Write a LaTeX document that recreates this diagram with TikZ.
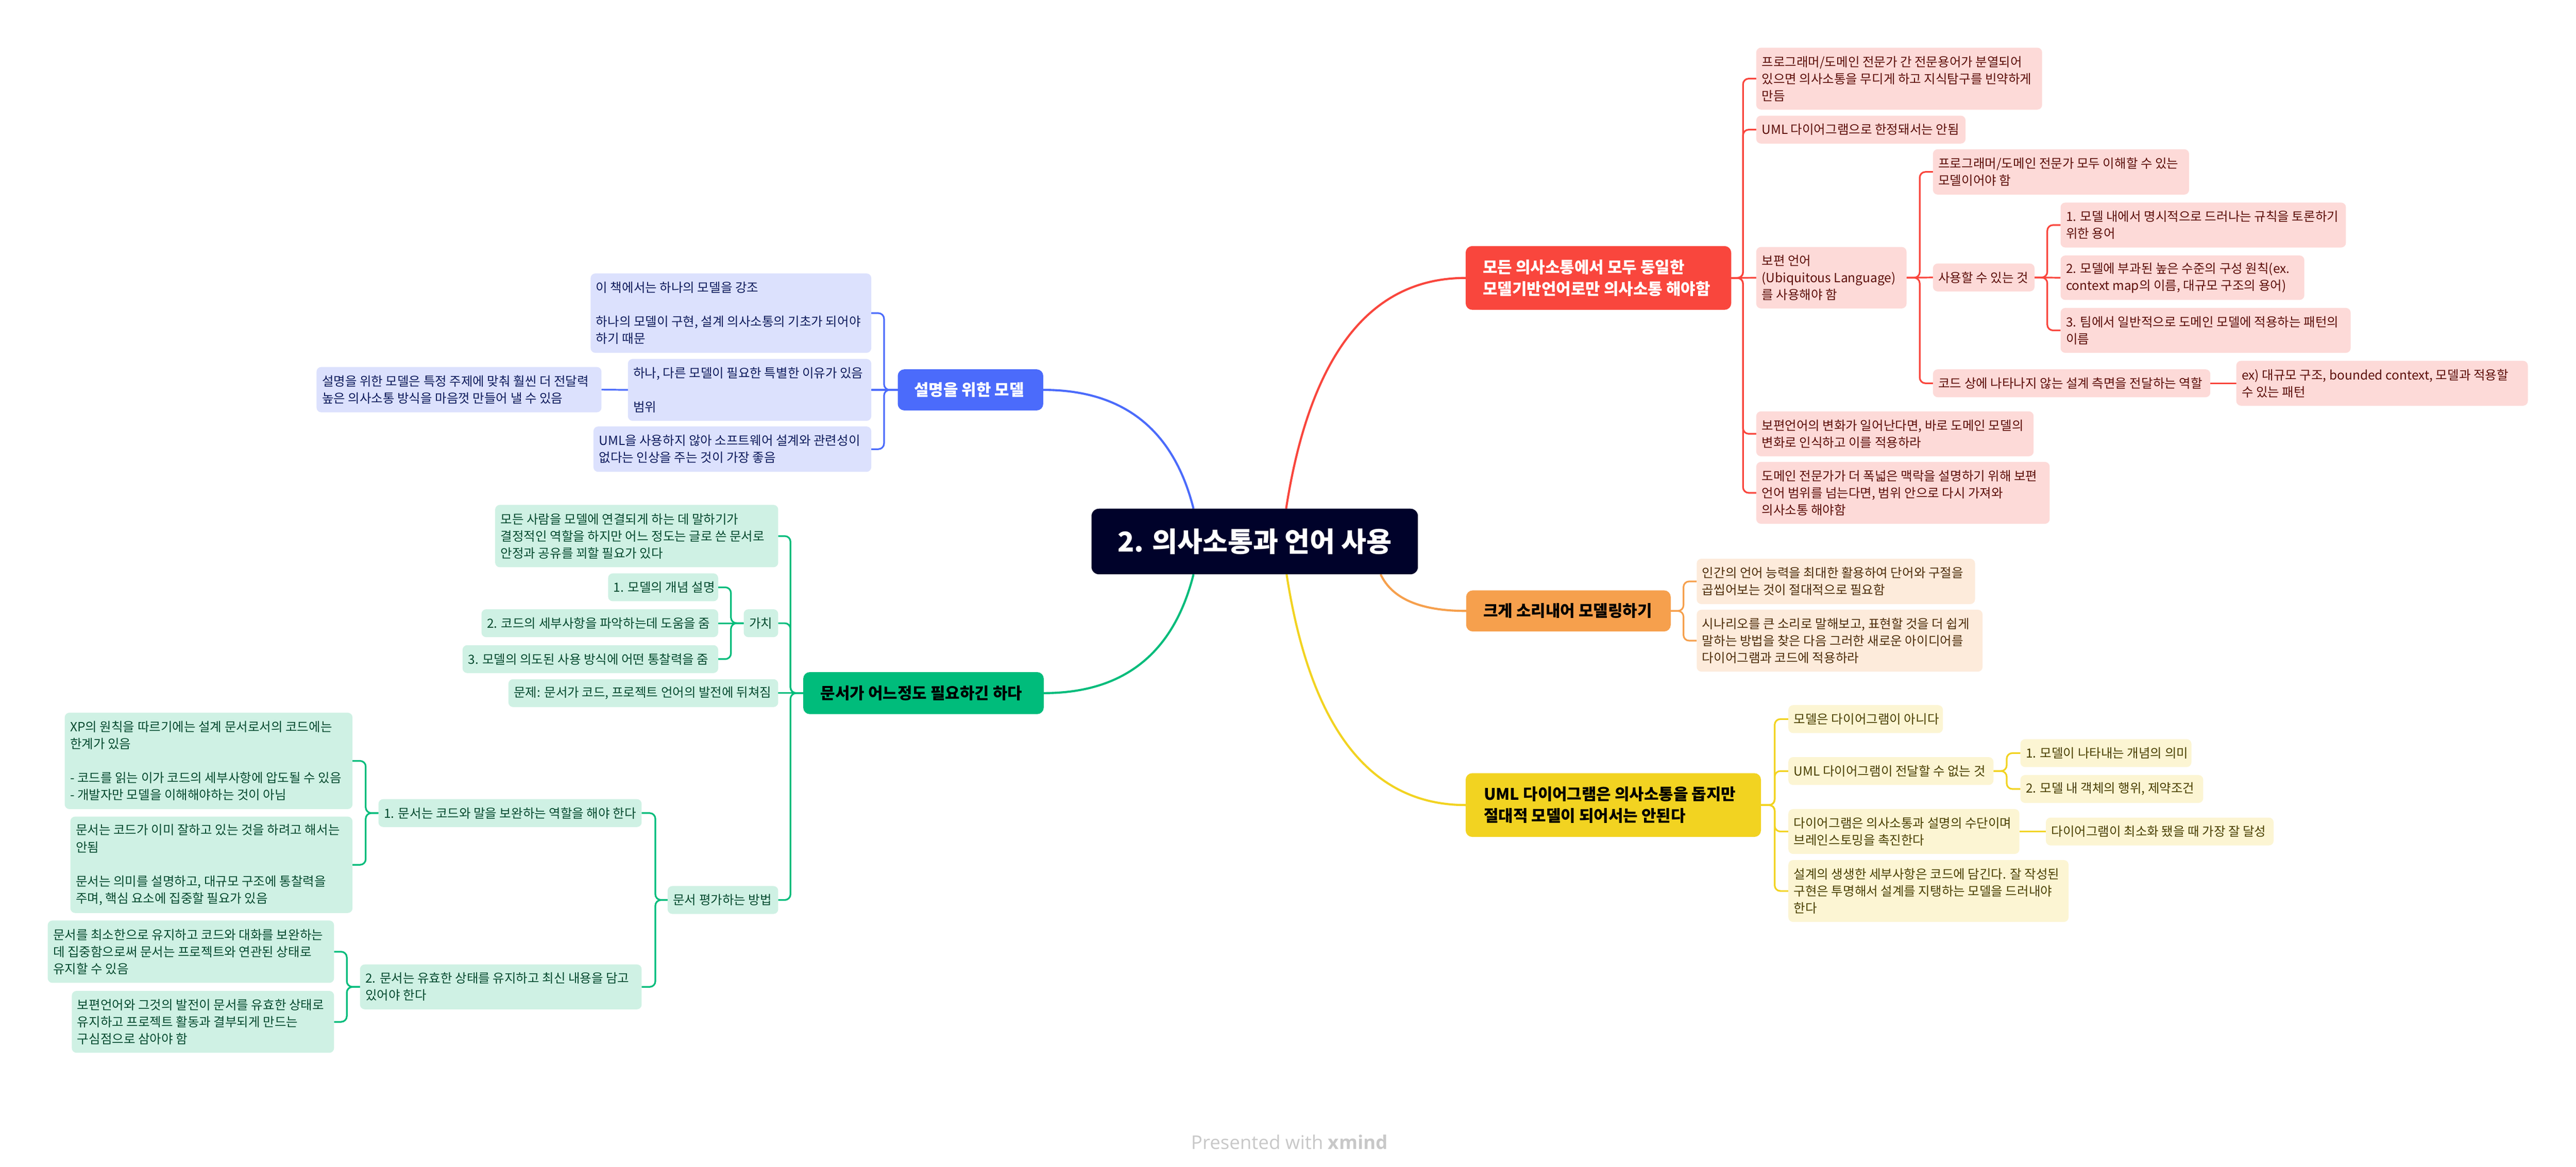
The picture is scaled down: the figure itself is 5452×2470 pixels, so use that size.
\documentclass[tikz,border=0pt]{standalone}
\usepackage{fontspec}
\setmainfont{Noto Sans CJK KR}
\newfontfamily\footfont{Open Sans}
\usetikzlibrary{calc}
\pgfdeclarelayer{paper}
\pgfdeclarelayer{lines}
\pgfsetlayers{paper,lines,main}

\definecolor{ctrC}{HTML}{00022A}
\definecolor{redM}{HTML}{F9463D}
\definecolor{redS}{HTML}{FDDAD8}
\definecolor{redT}{HTML}{5C0D08}
\definecolor{orgM}{HTML}{F6A04D}
\definecolor{orgS}{HTML}{FDEBDB}
\definecolor{orgT}{HTML}{4D2B08}
\definecolor{yelM}{HTML}{F2D321}
\definecolor{yelS}{HTML}{FCF5D3}
\definecolor{yelT}{HTML}{4A3F00}
\definecolor{bluM}{HTML}{4B6BFB}
\definecolor{bluS}{HTML}{DCE1FD}
\definecolor{bluT}{HTML}{0D1A5C}
\definecolor{grnM}{HTML}{00BC7B}
\definecolor{grnS}{HTML}{CFF1E4}
\definecolor{grnT}{HTML}{04492E}
\definecolor{footC}{HTML}{C8C8C8}

\newcommand{\subsize}{\fontsize{10.7pt}{14.4pt}\selectfont}
\newcommand{\mainsize}{\fontsize{13.5pt}{18.4pt}\selectfont\bfseries}

\tikzset{
  boxbase/.style={rectangle, inner sep=0pt, outer sep=0pt},
  subbox/.style={boxbase, rounded corners=4pt},
  mainbox/.style={boxbase, rounded corners=5.6pt},
  redmain/.style={mainbox, fill=redM},
  redmaintext/.style={text=white, font=\mainsize},
  redsub/.style={subbox, fill=redS},
  redsubtext/.style={text=redT, font=\subsize},
  orgmain/.style={mainbox, fill=orgM},
  orgmaintext/.style={text=black, font=\mainsize},
  orgsub/.style={subbox, fill=orgS},
  orgsubtext/.style={text=orgT, font=\subsize},
  yelmain/.style={mainbox, fill=yelM},
  yelmaintext/.style={text=black, font=\mainsize},
  yelsub/.style={subbox, fill=yelS},
  yelsubtext/.style={text=yelT, font=\subsize},
  blumain/.style={mainbox, fill=bluM},
  blumaintext/.style={text=white, font=\mainsize},
  blusub/.style={subbox, fill=bluS},
  blusubtext/.style={text=bluT, font=\subsize},
  grnmain/.style={mainbox, fill=grnM},
  grnmaintext/.style={text=black, font=\mainsize},
  grnsub/.style={subbox, fill=grnS},
  grnsubtext/.style={text=grnT, font=\subsize},
  mainconn/.style={line width=1.8pt},
  subconn/.style={line width=1.4pt, rounded corners=4.8pt},
}

% style, name, x1, y1, x2, y2, pad, text   (all in reference pixels)
\newcommand{\topicbox}[8]{%
  \node[#1, minimum width={(#5-#3)*0.4pt}, minimum height={(#6-#4)*0.4pt}] (#2) at ({(#3+#5)/2},{(#4+#6)/2}) {};
  \node[#1text, anchor=west, align=left, inner sep=0pt] (#2t) at ([xshift={#7*0.4pt}]#2.west) {#8};
}

\begin{document}
\begin{tikzpicture}[x=0.4pt,y=-0.4pt]
\useasboundingbox (0,0) rectangle (5452,2470);
\begin{pgfonlayer}{paper}
  \fill[white] (0,0) rectangle (5452,2470);
\end{pgfonlayer}

% central topic
\node[mainbox, rounded corners=6.4pt, fill=ctrC, minimum width={(3001-2310)*0.4pt}, minimum height={(1216-1077)*0.4pt},
      text=white, font=\fontsize{23.2pt}{27pt}\selectfont\bfseries] (ctr) at (2655.5,1146.5) {2. 의사소통과 언어 사용};

% ---------------- red branch
\topicbox{redmain}{rm}{3102}{521}{3664}{656}{36}{모든 의사소통에서 모두 동일한\\모델기반언어로만 의사소통 해야함}
\topicbox{redsub}{r1}{3717}{101}{4322}{232}{11}{프로그래머/도메인 전문가 간 전문용어가 분열되어\\있으면 의사소통을 무디게 하고 지식탐구를 빈약하게\\만듬}
\topicbox{redsub}{r2}{3717}{245}{4160}{304}{11}{UML 다이어그램으로 한정돼서는 안됨}
\topicbox{redsub}{r3}{3717}{523}{4035}{653}{11}{보편 언어\\(Ubiquitous Language)\\를 사용해야 함}
\topicbox{redsub}{r4}{3717}{871}{4304}{966}{11}{보편언어의 변화가 일어난다면, 바로 도메인 모델의\\변화로 인식하고 이를 적용하라}
\topicbox{redsub}{r5}{3717}{978}{4338}{1109}{11}{도메인 전문가가 더 폭넓은 맥락을 설명하기 위해 보편\\언어 범위를 넘는다면, 범위 안으로 다시 가져와\\의사소통 해야함}
\topicbox{redsub}{r3a}{4091}{316}{4633}{412}{11}{프로그래머/도메인 전문가 모두 이해할 수 있는\\모델이어야 함}
\topicbox{redsub}{r3b}{4091}{558}{4306}{617}{11}{사용할 수 있는 것}
\topicbox{redsub}{r3c}{4091}{782}{4678}{841}{11}{코드 상에 나타나지 않는 설계 측면을 전달하는 역할}
\topicbox{redsub}{r3ba}{4361}{429}{4965}{524}{11}{1. 모델 내에서 명시적으로 드러나는 규칙을 토론하기\\위한 용어}
\topicbox{redsub}{r3bb}{4361}{541}{4877}{635}{11}{2. 모델에 부과된 높은 수준의 구성 원칙(ex.\\context map의 이름, 대규모 구조의 용어)}
\topicbox{redsub}{r3bc}{4361}{652}{4975}{747}{11}{3. 팀에서 일반적으로 도메인 모델에 적용하는 패턴의\\이름}
\topicbox{redsub}{r3ca}{4733}{764}{5350}{859}{11}{ex) 대규모 구조, bounded context, 모델과 적용할\\수 있는 패턴}

% ---------------- orange branch
\topicbox{orgmain}{om}{3103}{1250}{3536}{1337}{36}{크게 소리내어 모델링하기}
\topicbox{orgsub}{o1}{3591}{1183}{4180}{1279}{11}{인간의 언어 능력을 최대한 활용하여 단어와 구절을\\곱씹어보는 것이 절대적으로 필요함}
\topicbox{orgsub}{o2}{3591}{1291}{4196}{1422}{11}{시나리오를 큰 소리로 말해보고, 표현할 것을 더 쉽게\\말하는 방법을 찾은 다음 그러한 새로운 아이디어를\\다이어그램과 코드에 적용하라}

% ---------------- yellow branch
\topicbox{yelmain}{ym}{3102}{1637}{3727}{1772}{38}{UML 다이어그램은 의사소통을 돕지만\\절대적 모델이 되어서는 안된다}
\topicbox{yelsub}{y1}{3785}{1493}{4112}{1552}{11}{모델은 다이어그램이 아니다}
\topicbox{yelsub}{y2}{3785}{1603}{4219}{1662}{11}{UML 다이어그램이 전달할 수 없는 것}
\topicbox{yelsub}{y2a}{4276}{1565}{4638}{1624}{11}{1. 모델이 나타내는 개념의 의미}
\topicbox{yelsub}{y2b}{4276}{1641}{4663}{1700}{11}{2. 모델 내 객체의 행위, 제약조건}
\topicbox{yelsub}{y3}{3785}{1713}{4274}{1808}{11}{다이어그램은 의사소통과 설명의 수단이며\\브레인스토밍을 촉진한다}
\topicbox{yelsub}{y3a}{4330}{1731}{4812}{1790}{11}{다이어그램이 최소화 됐을 때 가장 잘 달성}
\topicbox{yelsub}{y4}{3785}{1821}{4378}{1952}{11}{설계의 생생한 세부사항은 코드에 담긴다. 잘 작성된\\구현은 투명해서 설계를 지탱하는 모델을 드러내야\\한다}

% ---------------- blue branch
\topicbox{blumain}{bm}{1900}{782}{2208}{869}{34}{설명을 위한 모델}
\topicbox{blusub}{b1}{1250}{579}{1844}{747}{11}{이 책에서는 하나의 모델을 강조\\[14.4pt]하나의 모델이 구현, 설계 의사소통의 기초가 되어야\\하기 때문}
\topicbox{blusub}{b2}{1329}{760}{1844}{891}{11}{하나, 다른 모델이 필요한 특별한 이유가 있음\\[14.4pt]범위}
\topicbox{blusub}{b2a}{670}{777}{1273}{873}{11}{설명을 위한 모델은 특정 주제에 맞춰 훨씬 더 전달력\\높은 의사소통 방식을 마음껏 만들어 낼 수 있음}
\topicbox{blusub}{b3}{1256}{903}{1844}{999}{11}{UML을 사용하지 않아 소프트웨어 설계와 관련성이\\없다는 인상을 주는 것이 가장 좋음}

% ---------------- green branch
\topicbox{grnmain}{gm}{1700}{1423}{2209}{1512}{36}{문서가 어느정도 필요하긴 하다}
\topicbox{grnsub}{g1}{1048}{1069}{1647}{1201}{11}{모든 사람을 모델에 연결되게 하는 데 말하기가\\결정적인 역할을 하지만 어느 정도는 글로 쓴 문서로\\안정과 공유를 꾀할 필요가 있다}
\topicbox{grnsub}{g2}{1574}{1290}{1647}{1349}{11}{가치}
\topicbox{grnsub}{g2a}{1287}{1214}{1520}{1273}{11}{1. 모델의 개념 설명}
\topicbox{grnsub}{g2b}{1019}{1290}{1520}{1349}{11}{2. 코드의 세부사항을 파악하는데 도움을 줌}
\topicbox{grnsub}{g2c}{979}{1366}{1520}{1425}{11}{3. 모델의 의도된 사용 방식에 어떤 통찰력을 줌}
\topicbox{grnsub}{g3}{1076}{1438}{1647}{1497}{11}{문제: 문서가 코드, 프로젝트 언어의 발전에 뒤쳐짐}
\topicbox{grnsub}{g4}{1413}{1876}{1647}{1935}{11}{문서 평가하는 방법}
\topicbox{grnsub}{g4a}{801}{1692}{1358}{1751}{11}{1. 문서는 코드와 말을 보완하는 역할을 해야 한다}
\topicbox{grnsub}{g4aa}{137}{1509}{746}{1713}{11}{XP의 원칙을 따르기에는 설계 문서로서의 코드에는\\한계가 있음\\[14.4pt]- 코드를 읽는 이가 코드의 세부사항에 압도될 수 있음\\- 개발자만 모델을 이해해야하는 것이 아님}
\topicbox{grnsub}{g4ab}{149}{1729}{746}{1933}{11}{문서는 코드가 이미 잘하고 있는 것을 하려고 해서는\\안됨\\[14.4pt]문서는 의미를 설명하고, 대규모 구조에 통찰력을\\주며, 핵심 요소에 집중할 필요가 있음}
\topicbox{grnsub}{g4b}{762}{2042}{1358}{2137}{11}{2. 문서는 유효한 상태를 유지하고 최신 내용을 담고\\있어야 한다}
\topicbox{grnsub}{g4ba}{101}{1949}{707}{2081}{11}{문서를 최소한으로 유지하고 코드와 대화를 보완하는\\데 집중함으로써 문서는 프로젝트와 연관된 상태로\\유지할 수 있음}
\topicbox{grnsub}{g4bb}{152}{2098}{707}{2229}{11}{보편언어와 그것의 발전이 문서를 유효한 상태로\\유지하고 프로젝트 활동과 결부되게 만드는\\구심점으로 삼아야 함}

% footer
\node[font=\footfont\fontsize{16pt}{19pt}\selectfont, text=footC, anchor=base] (foot) at (2729,2433) {Presented with \textbf{xmind}};

% ---------------- connectors
\begin{pgfonlayer}{lines}
  % main curves
  \draw[mainconn, redM] ($(ctr.north west)+(412,0)$) .. controls (2772.7,751.3) and (2899.3,588.5) .. (rm.west);
  \draw[mainconn, bluM] ($(ctr.north west)+(216,0)$) .. controls (2483.6,909.3) and (2377.6,825.5) .. (bm.east);
  \draw[mainconn, grnM] ($(ctr.south west)+(216,0)$) .. controls (2483.7,1383.7) and (2378.1,1467.5) .. (gm.east);
  \draw[mainconn, yelM] ($(ctr.south west)+(413,0)$) .. controls (2773.5,1541.7) and (2899.9,1704.5) .. (ym.west);
  \draw[mainconn, orgM] ($(ctr.south west)+(612,0)$) .. controls (2946.1,1267.7) and (3006.5,1293.5) .. (om.west);

  % red
  \draw[subconn, redM] (rm.east) -- ++(25,0) |- (r1.west);
  \draw[subconn, redM] (rm.east) -- ++(25,0) |- (r2.west);
  \draw[subconn, redM] (rm.east) -- (r3.west);
  \draw[subconn, redM] (rm.east) -- ++(25,0) |- (r4.west);
  \draw[subconn, redM] (rm.east) -- ++(25,0) |- (r5.west);
  \draw[subconn, redM] (r3.east) -- ++(28,0) |- (r3a.west);
  \draw[subconn, redM] (r3.east) -- (r3b.west);
  \draw[subconn, redM] (r3.east) -- ++(28,0) |- (r3c.west);
  \draw[subconn, redM] (r3b.east) -- ++(27,0) |- (r3ba.west);
  \draw[subconn, redM] (r3b.east) -- (r3bb.west);
  \draw[subconn, redM] (r3b.east) -- ++(27,0) |- (r3bc.west);
  \draw[subconn, redM] (r3c.east) -- (r3ca.west);

  % orange
  \draw[subconn, orgM] (om.east) -- ++(27,0) |- (o1.west);
  \draw[subconn, orgM] (om.east) -- ++(27,0) |- (o2.west);

  % yellow
  \draw[subconn, yelM] (ym.east) -- ++(29,0) |- (y1.west);
  \draw[subconn, yelM] (ym.east) -- ++(29,0) |- (y2.west);
  \draw[subconn, yelM] (ym.east) -- ++(29,0) |- (y3.west);
  \draw[subconn, yelM] (ym.east) -- ++(29,0) |- (y4.west);
  \draw[subconn, yelM] (y2.east) -- ++(28,0) |- (y2a.west);
  \draw[subconn, yelM] (y2.east) -- ++(28,0) |- (y2b.west);
  \draw[subconn, yelM] (y3.east) -- (y3a.west);

  % blue
  \draw[subconn, bluM] (bm.west) -- ++(-29,0) |- (b1.east);
  \draw[subconn, bluM] (bm.west) -- (b2.east);
  \draw[subconn, bluM] (bm.west) -- ++(-29,0) |- (b3.east);
  \draw[subconn, bluM] (b2.west) -- (b2a.east);

  % green
  \draw[subconn, grnM] (gm.west) -- ++(-27,0) |- (g1.east);
  \draw[subconn, grnM] (gm.west) -- ++(-27,0) |- (g2.east);
  \draw[subconn, grnM] (gm.west) -- (g3.east);
  \draw[subconn, grnM] (gm.west) -- ++(-27,0) |- (g4.east);
  \draw[subconn, grnM] (g2.west) -- ++(-27,0) |- (g2a.east);
  \draw[subconn, grnM] (g2.west) -- (g2b.east);
  \draw[subconn, grnM] (g2.west) -- ++(-27,0) |- (g2c.east);
  \draw[subconn, grnM] (g4.west) -- ++(-26,0) |- (g4a.east);
  \draw[subconn, grnM] (g4.west) -- ++(-26,0) |- (g4b.east);
  \draw[subconn, grnM] (g4a.west) -- ++(-27,0) |- (g4aa.east);
  \draw[subconn, grnM] (g4a.west) -- ++(-27,0) |- (g4ab.east);
  \draw[subconn, grnM] (g4b.west) -- ++(-28,0) |- (g4ba.east);
  \draw[subconn, grnM] (g4b.west) -- ++(-28,0) |- (g4bb.east);
\end{pgfonlayer}
\end{tikzpicture}
\end{document}
